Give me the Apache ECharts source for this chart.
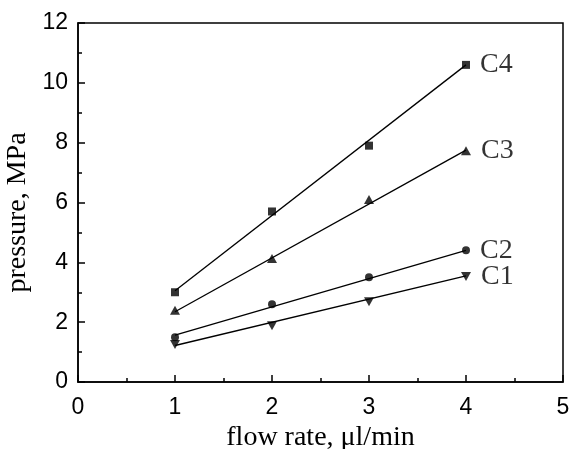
<!DOCTYPE html>
<html>
<head>
<meta charset="utf-8">
<script src="https://cdn.jsdelivr.net/npm/echarts@6/dist/echarts.min.js"></script>
<style>html,body{margin:0;padding:0;background:#fff}#c{width:572px;height:449px}</style>
</head>
<body>
<div id="c"></div>
<script>
const flowRate = [1, 2, 3, 4];
const seriesNames = ['C1', 'C2', 'C3', 'C4'];
const c1 = [1.25, 1.88, 2.68, 3.53];
const c2 = [1.5, 2.6, 3.5, 4.4];
const c3 = [2.4, 4.13, 6.1, 7.73];
const c4 = [3.0, 5.7, 7.9, 10.6];
// fitted line endpoints at x = 1 and x = 4
const fitX = [1, 4];
const c1Fit = [1.22, 3.55];
const c2Fit = [1.57, 4.4];
const c3Fit = [2.35, 7.75];
const c4Fit = [3.05, 10.6];
const xTicks = [0, 1, 2, 3, 4, 5];
const yTicks = [0, 2, 4, 6, 8, 10, 12];

const values = [c1, c2, c3, c4];
const fits = [c1Fit, c2Fit, c3Fit, c4Fit];
const symbols = ['path://M0,0L10,0L5,9Z', 'circle', 'triangle', 'rect'];
const sizes = [[10, 9], 8, [10, 9], 8];

const series = [];
seriesNames.forEach((name, i) => {
  series.push({
    type: 'line', name: name + ' fit', data: fitX.map((x, j) => [x, fits[i][j]]),
    showSymbol: false, symbol: 'none', lineStyle: {color: '#000', width: 1.3}, silent: true, z: 2
  });
  series.push({
    type: 'scatter', name: name, symbol: symbols[i], symbolSize: sizes[i],
    itemStyle: {color: '#000'}, z: 3,
    data: flowRate.map((x, j) => {
      const d = {value: [x, values[i][j]]};
      if (j === flowRate.length - 1) {
        d.label = {show: true, position: 'right', distance: 10, formatter: name,
          fontFamily: 'Liberation Serif', fontSize: 28, color: '#000'};
      }
      return d;
    })
  });
});

const chart = echarts.init(document.getElementById('c'));
chart.setOption({
  animation: false,
  backgroundColor: '#fff',
  grid: {left: 78, right: 9, top: 23, bottom: 67, containLabel: false, outerBoundsMode: 'none',
    show: true, borderColor: '#000', borderWidth: 1.5, backgroundColor: 'transparent'},
  xAxis: {
    type: 'value', min: 0, max: 5, interval: 1,
    name: 'flow rate, μl/min', nameLocation: 'middle', nameGap: 40,
    nameTextStyle: {fontFamily: 'Liberation Serif', fontSize: 28, color: '#000'},
    axisLine: {show: true, lineStyle: {color: '#000', width: 1.5}},
    axisTick: {show: true, inside: true, length: 7, lineStyle: {color: '#000', width: 1.5}},
    minorTick: {show: true, splitNumber: 2, length: 4, lineStyle: {color: '#000', width: 1.5}},
    splitLine: {show: false},
    axisLabel: {margin: 14, fontFamily: 'Liberation Sans', fontSize: 23, color: '#000',
      formatter: v => xTicks.includes(v) ? String(v) : ''}
  },
  yAxis: {
    type: 'value', min: 0, max: 12, interval: 2,
    name: 'pressure, MPa', nameLocation: 'middle', nameGap: 44,
    nameTextStyle: {fontFamily: 'Liberation Serif', fontSize: 28, color: '#000', padding: [0, 0, 0, -20]},
    axisLine: {show: true, lineStyle: {color: '#000', width: 1.5}},
    axisTick: {show: true, inside: true, length: 7, lineStyle: {color: '#000', width: 1.5}},
    minorTick: {show: true, splitNumber: 2, length: 4, lineStyle: {color: '#000', width: 1.5}},
    splitLine: {show: false},
    axisLabel: {margin: 10, fontFamily: 'Liberation Sans', fontSize: 23, color: '#000',
      formatter: v => yTicks.includes(v) ? String(v) : ''}
  },
  series: series
});
</script>
</body>
</html>
